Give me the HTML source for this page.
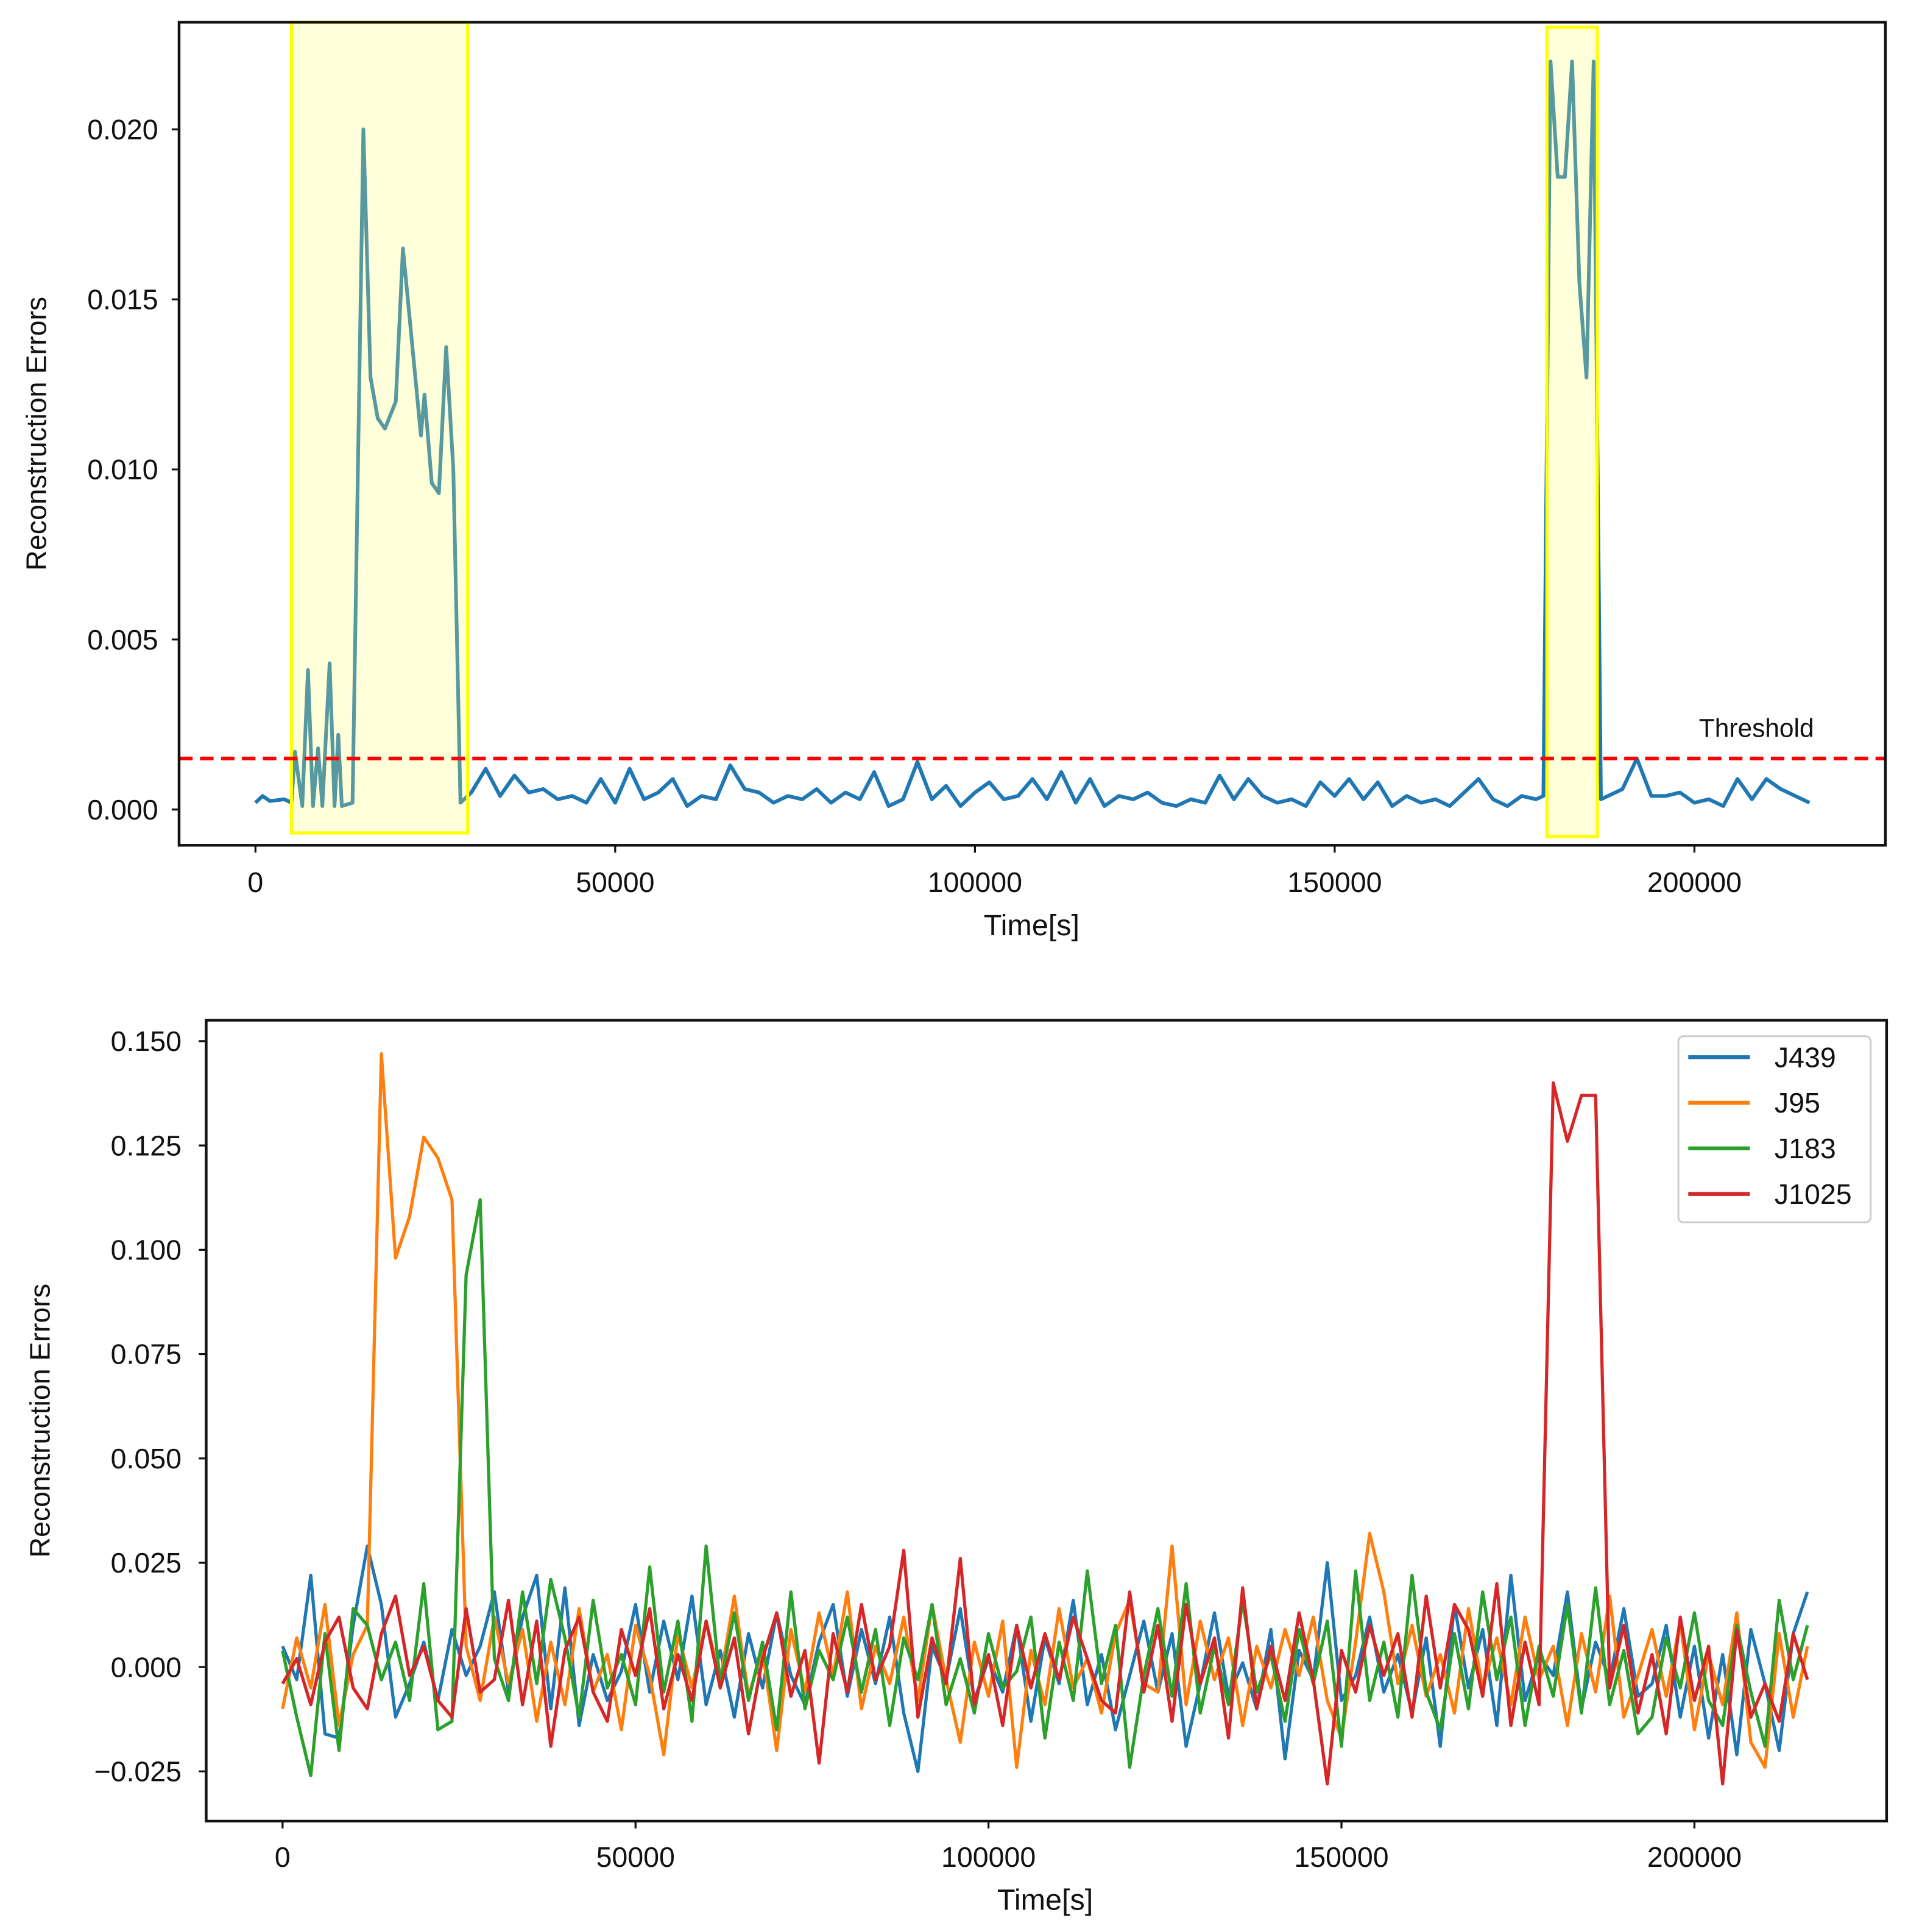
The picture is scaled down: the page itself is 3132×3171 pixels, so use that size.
<!DOCTYPE html>
<html><head><meta charset="utf-8">
<style>
html,body{margin:0;padding:0;background:#fff;}
svg{display:block;font-family:"Liberation Sans","DejaVu Sans",sans-serif;}
</style></head>
<body>
<svg id="chart" width="3132" height="3171" viewBox="0 0 1548 1568" xmlns="http://www.w3.org/2000/svg"></svg>
<script>
// ---------- Top chart data ----------
const topTimes = [0,1000,2000,4000,5000,5500,6500,7300,8000,8700,9300,10300,11000,11500,12000,13500,15000,16000,17000,18000,19500,20500,23000,23500,24500,25500,26500,27500,28500,
30000,32000,34000,36000,38000,40000,42000,44000,46000,48000,50000,52000,54000,56000,58000,60000,62000,64000,66000,68000,70000,72000,74000,76000,78000,80000,82000,84000,86000,88000,90000,92000,94000,96000,98000,100000,102000,104000,106000,108000,110000,112000,114000,116000,118000,120000,122000,124000,126000,128000,130000,132000,134000,136000,138000,140000,142000,144000,146000,148000,150000,152000,154000,156000,158000,160000,162000,164000,166000,168000,170000,172000,174000,176000,178000,
179000,180000,181000,182000,183000,184000,185000,186000,187000,188000,190000,192000,194000,196000,198000,200000,202000,204000,206000,208000,210000,212000,214000,216000];
const topValues = [0.0002,0.0004,0.00025,0.0003,0.0002,0.0017,0.0001,0.0041,0.0001,0.0018,0.0001,0.0043,0.0001,0.0022,0.0001,0.0002,0.0200,0.0127,0.0115,0.0112,0.0120,0.0165,0.0110,0.0122,0.0096,0.0093,0.0136,0.0100,0.0002,
0.0005,0.0012,0.0004,0.0010,0.0005,0.0006,0.0003,0.0004,0.0002,0.0009,0.0002,0.0012,0.0003,0.0005,0.0009,0.0001,0.0004,0.0003,0.0013,0.0006,0.0005,0.0002,0.0004,0.0003,0.0006,0.0002,0.0005,0.0003,0.0011,0.0001,0.0003,0.0014,0.0003,0.0007,0.0001,0.0005,0.0008,0.0003,0.0004,0.0009,0.0003,0.0011,0.0002,0.0009,0.0001,0.0004,0.0003,0.0005,0.0002,0.0001,0.0003,0.0002,0.0010,0.0003,0.0009,0.0004,0.0002,0.0003,0.0001,0.0008,0.0004,0.0009,0.0003,0.0008,0.0001,0.0004,0.0002,0.0003,0.0001,0.0005,0.0009,0.0003,0.0001,0.0004,0.0003,
0.0004,0.0220,0.0186,0.0186,0.0220,0.0155,0.0127,0.0220,0.0003,0.0004,0.0006,0.0015,0.0004,0.0004,0.0005,0.0002,0.0003,0.0001,0.0009,0.0003,0.0009,0.0006,0.0004,0.0002];
const topThreshold = 0.0015;
const topAnomalyRanges = [[5000,29500],[179500,186500]];
const topYTicks = [0,0.005,0.010,0.015,0.020];
const topYTickLabels = ["0.000","0.005","0.010","0.015","0.020"];
const xTicks = [0,50000,100000,150000,200000];
const xTickLabels = ["0","50000","100000","150000","200000"];

// ---------- Bottom chart data (step 2000 s, values in 1e-3 units) ----------
const bottomStep = 2000;
const seriesNames = ["J439","J95","J183","J1025"];
const seriesColors = ["#1f77b4","#ff7f0e","#2ca02c","#d62728"];
const j439 = [5,-3,22,-16,-17,10,29,15,-12,-4, 6,-8,9,-2,5,18,-6,12,22,-10, 19,-14,3,-8,-1,15,-6,11,-3,17, -9,4,-12,8,-5,13,-2,-9,6,15, -7,9,-4,12,-11,-25,5,-3,14,-8, 2,-6,10,-13,7,-4,16,-9,3,-15, -2,11,-6,8,-19,-4,13,-7,1,-10, 9,-22,4,-3,25,-8,-2,12,-6,3, -11,7,-19,15,-5,9,-14,22,-8,3, -2,18,-10,6,-3,14,-7,-4,10,-12, 5,-17,3,-21,9,-4,-20,8,18];
const j95 = [-10,7,-5,15,-14,3,10,147,98,108, 127,122,112,5,-8,12,-4,9,-13,6, -9,14,-6,3,-15,10,-2,-21,8,-5, 11,-3,17,-7,4,-20,9,-6,13,-2, 18,-10,5,-4,12,-8,15,-3,-18,6, -7,11,-24,4,-9,14,-5,2,-11,8, 16,-4,-6,29,-9,11,-3,7,-14,5, -5,9,-2,12,-8,-17,6,32,18,-4, 10,-7,3,-11,14,-5,7,-9,12,-3, 5,-14,8,-6,17,-12,-2,9,-7,11, -15,3,-9,13,-18,-24,8,-12,5];
const j183 = [4,-12,-26,8,-20,14,10,-3,6,-8, 20,-15,-13,94,112,2,-8,18,-4,21, 7,-12,16,-5,3,-9,24,-6,11,-13, 29,-4,13,-8,6,-15,18,-10,4,-3, 12,-6,9,-14,7,-3,15,-9,2,-11, 8,-5,-1,12,-17,6,-8,23,-4,10, -24,-2,14,-7,20,-11,5,-9,16,-6, 3,-13,9,-4,11,-19,23,-8,6,-12, 22,-6,-15,8,-10,18,-3,12,-14,5, -7,15,-11,19,-9,4,-16,-12,7,-5, 13,-8,-14,10,-6,-19,16,-3,10];
const j1025 = [-4,2,-9,6,12,-5,-10,8,17,-2, 5,-8,-12,14,-6,-3,16,-9,11,-19, 4,12,-6,-13,9,-2,14,-10,3,-8, 11,-5,7,-16,2,13,-7,4,-23,8, -6,15,-3,5,28,-12,7,-4,26,-9, 3,-14,10,-5,8,-3,12,2,-8,-11, 18,-6,10,-13,15,-4,7,-17,19,-10, 5,-8,13,-3,-28,4,-6,10,-2,8, -12,17,-5,15,9,-7,20,-14,6,-9, 140,126,137,137,-5,10,-11,3,-16,12, -8,5,-28,9,-12,-4,-13,8,-3];
const bottomSeries = [j439,j95,j183,j1025];
const bottomYTicks = [-0.025,0,0.025,0.05,0.075,0.1,0.125,0.15];
const bottomYTickLabels = ["\u22120.025","0.000","0.025","0.050","0.075","0.100","0.125","0.150"];

// ---------- drawing ----------
const NS = "http://www.w3.org/2000/svg";
const svg = document.getElementById("chart");
function mk(tag, attrs, parent){
  const e = document.createElementNS(NS, tag);
  for (const k in attrs) e.setAttribute(k, attrs[k]);
  (parent||svg).appendChild(e);
  return e;
}
function txt(s, attrs, parent){ const t = mk("text", attrs, parent); t.textContent = s; return t; }

// Top axes functions
const tL=145,tR=1530,tT=18,tB=686;
const tx = v => 207 + v*(1375-207)/200000;
const ty = v => 657 - v*(657-105)/0.020;

const gTop = mk("g",{});



let d = topTimes.map((t,i)=>(i?"L":"M")+tx(t).toFixed(1)+","+ty(topValues[i]).toFixed(1)).join(" ");
const topLine = mk("path",{d:d,fill:"none",stroke:"#1f77b4","stroke-width":3,"stroke-linejoin":"round"},gTop);



topAnomalyRanges.forEach((r,i)=>{
  const top = i===0 ? tT : 22, bot = i===0 ? 676 : 679;
  const rc = mk("rect",{x:tx(r[0]),y:top,width:tx(r[1])-tx(r[0]),height:bot-top,fill:"#ffff66","fill-opacity":0.25,stroke:"#ffff00","stroke-width":2.5},gTop);
  
  
});

const thr = mk("line",{x1:tL,x2:tR,y1:ty(topThreshold),y2:ty(topThreshold),stroke:"#ff0000","stroke-width":3,"stroke-dasharray":"11,6"},gTop);


const thrLbl = txt("Threshold",{x:1472,y:598,"font-size":21,"text-anchor":"end",fill:"#111"},gTop);



const topFrame = mk("rect",{x:tL,y:tT,width:tR-tL,height:tB-tT,fill:"none",stroke:"#111","stroke-width":2.2},gTop);



topYTicks.forEach((v,i)=>{
  mk("line",{x1:tL-6,x2:tL,y1:ty(v),y2:ty(v),stroke:"#111","stroke-width":1.6},gTop);
  const l = txt(topYTickLabels[i],{x:128,y:ty(v)+8,"font-size":23,"text-anchor":"end",fill:"#111"},gTop);
  
  
});
xTicks.forEach((v,i)=>{
  mk("line",{x1:tx(v),x2:tx(v),y1:tB,y2:tB+6,stroke:"#111","stroke-width":1.6},gTop);
  const l = txt(xTickLabels[i],{x:tx(v),y:724,"font-size":23,"text-anchor":"middle",fill:"#111"},gTop);
  
  
});
const tXT = txt("Time[s]",{x:837,y:759,"font-size":24,"text-anchor":"middle",fill:"#111"},gTop);


const tYT = txt("Reconstruction Errors",{x:0,y:0,"font-size":23,"text-anchor":"middle",fill:"#111",transform:"translate(37,352) rotate(-90)"},gTop);



// Bottom axes functions
const bL=167,bR=1531,bT=828,bB=1478;
const bx = v => 229 + v*(1375-229)/200000;
const by = v => 1353 - v*(1353-845)/0.150;

const gBot = mk("g",{});



bottomSeries.forEach((s,k)=>{
  const pd = s.map((v,i)=>(i?"L":"M")+bx(i*bottomStep).toFixed(1)+","+by(v/1000).toFixed(1)).join(" ");
  const p = mk("path",{d:pd,fill:"none",stroke:seriesColors[k],"stroke-width":2.6,"stroke-linejoin":"round"},gBot);
  
  
});

const botFrame = mk("rect",{x:bL,y:bT,width:bR-bL,height:bB-bT,fill:"none",stroke:"#111","stroke-width":2.2},gBot);



bottomYTicks.forEach((v,i)=>{
  mk("line",{x1:bL-6,x2:bL,y1:by(v),y2:by(v),stroke:"#111","stroke-width":1.6},gBot);
  const l = txt(bottomYTickLabels[i],{x:147,y:by(v)+8,"font-size":23,"text-anchor":"end",fill:"#111"},gBot);
  
  
});
xTicks.forEach((v,i)=>{
  mk("line",{x1:bx(v),x2:bx(v),y1:bB,y2:bB+6,stroke:"#111","stroke-width":1.6},gBot);
  const l = txt(xTickLabels[i],{x:bx(v),y:1515,"font-size":23,"text-anchor":"middle",fill:"#111"},gBot);
  
  
});
const bXT = txt("Time[s]",{x:848,y:1550,"font-size":24,"text-anchor":"middle",fill:"#111"},gBot);


const bYT = txt("Reconstruction Errors",{x:0,y:0,"font-size":23,"text-anchor":"middle",fill:"#111",transform:"translate(40,1153) rotate(-90)"},gBot);



// Legend
const leg = mk("g",{},gBot);


mk("rect",{x:1362,y:841,width:156,height:151,rx:4,fill:"#fff",stroke:"#ccc","stroke-width":1.5},leg);
seriesNames.forEach((n,k)=>{
  const yy = 858 + k*37;
  const e = mk("g",{},leg);
  
  
  mk("line",{x1:1370,x2:1420,y1:yy,y2:yy,stroke:seriesColors[k],"stroke-width":3.2},e);
  txt(n,{x:1440,y:yy+8,"font-size":23,fill:"#111"},e);
});
</script>
</body></html>
